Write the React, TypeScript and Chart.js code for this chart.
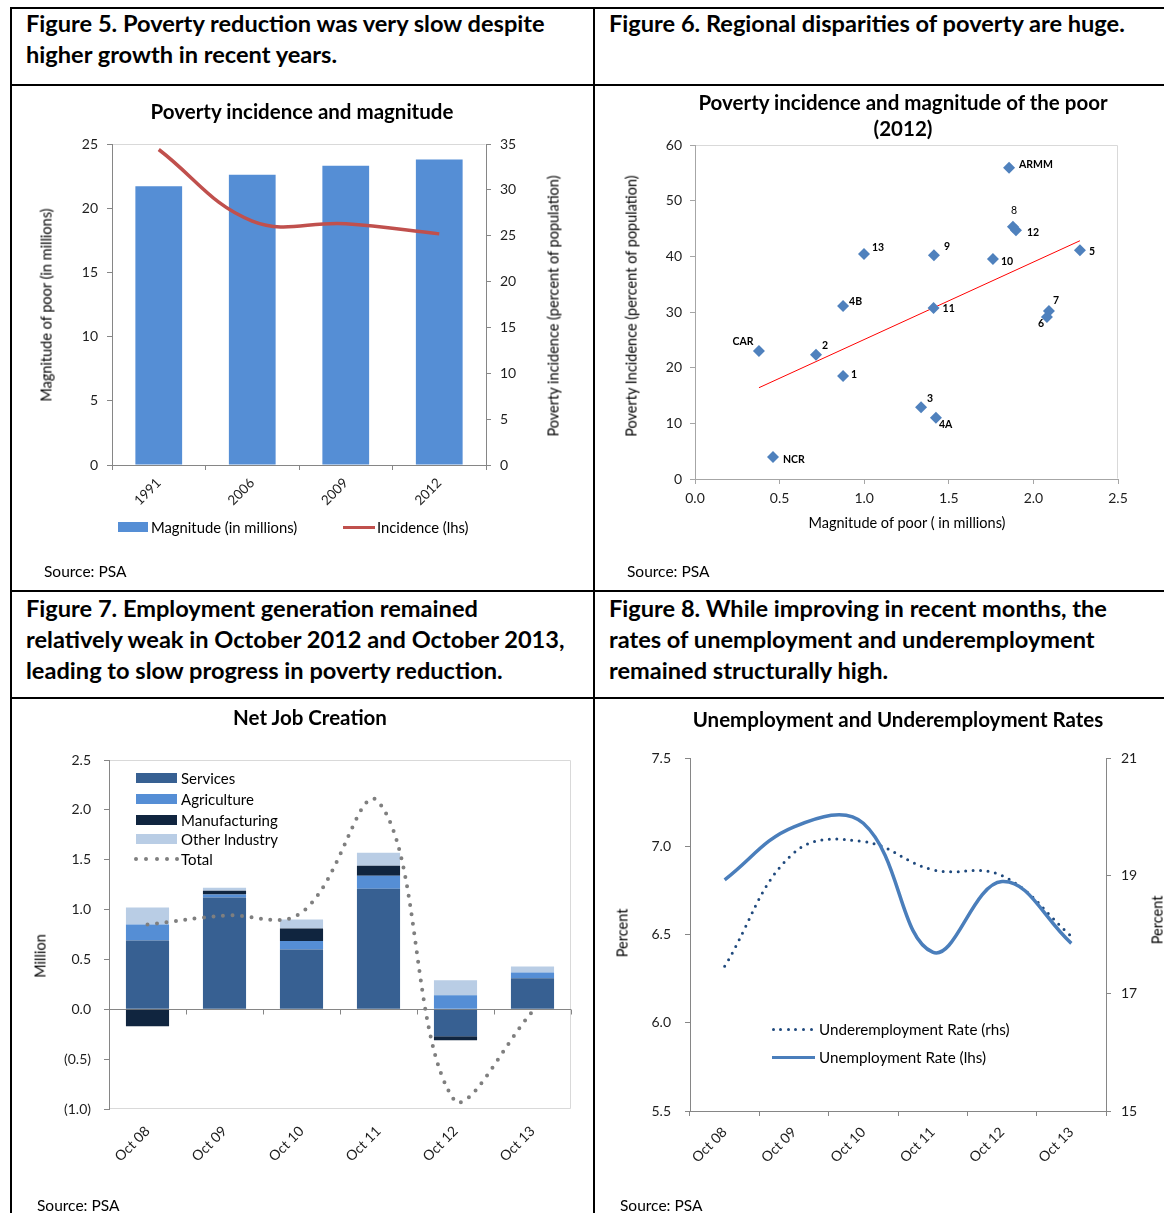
import React, { useEffect, useRef } from 'react';
import { Chart, registerables } from 'chart.js';

Chart.register(...registerables);

const FONT = 'Lato, "Open Sans", "DejaVu Sans", sans-serif';
Chart.defaults.font.family = FONT;
Chart.defaults.color = '#1e1e1e';

// ---------- Figure 5: Poverty incidence and magnitude ----------
const povertyYears = ['1991', '2006', '2009', '2012'];
const povertyMagnitude = [21.7, 22.6, 23.3, 23.8];
const povertyIncidence = [34.4, 26.6, 26.3, 25.2];

// ---------- Figure 6: Regional poverty (2012) ----------
const regionNames = ['ARMM', '8', '12', '13', '9', '10', '5', '4B', '11', '7', '6', 'CAR', '2', '1', '3', '4A', 'NCR'];
const regionMagnitude = [1.856, 1.879, 1.897, 0.999, 1.412, 1.761, 2.275, 0.875, 1.41, 2.092, 2.08, 0.378, 0.715, 0.875, 1.336, 1.424, 0.461];
const regionIncidence = [55.9, 45.3, 44.7, 40.4, 40.2, 39.5, 41.1, 31.1, 30.7, 30.2, 29.1, 23.0, 22.3, 18.5, 12.9, 11.0, 3.95];
const trendMagnitude = [0.378, 2.275];
const trendIncidence = [16.4, 42.8];

// ---------- Figure 7: Net job creation ----------
const jobPeriods = ['Oct 08', 'Oct 09', 'Oct 10', 'Oct 11', 'Oct 12', 'Oct 13'];
const jobServices = [0.69, 1.12, 0.60, 1.21, -0.27, 0.31];
const jobAgriculture = [0.16, 0.03, 0.085, 0.13, 0.14, 0.06];
const jobManufacturing = [-0.17, 0.04, 0.125, 0.10, -0.04, 0];
const jobOtherIndustry = [0.17, 0.03, 0.09, 0.13, 0.15, 0.06];
const jobTotal = [0.85, 0.94, 0.97, 2.08, -0.93, -0.02];

// ---------- Figure 8: Unemployment and underemployment ----------
const ratePeriods = ['Oct 08', 'Oct 09', 'Oct 10', 'Oct 11', 'Oct 12', 'Oct 13'];
const unemploymentRate = [6.81, 7.11, 7.13, 6.40, 6.80, 6.45];
const underemploymentRate = [17.46, 19.39, 19.58, 19.10, 19.0, 17.97];

// ---------- styles ----------
const AXIS = '#868686';
const LIGHT = '#D9D9D9';
const C_BAR = '#558ED5';
const C_RED = '#C0504D';
const C_DIAMOND = '#4F81BD';
const C_SERV = '#376092';
const C_AGRI = '#558ED5';
const C_MANU = '#10253F';
const C_OTHER = '#B9CDE5';
const C_TOTAL = '#7F7F7F';
const C_UNEMP = '#4A7EBB';
const C_UNDER = '#1F497D';

const regionLabelOffsets: [number, number, string, boolean][] = [
  [10, -3, 'left', true], [1, -16, 'center', false], [11, 2, 'left', true], [8, -6, 'left', true],
  [10, -9, 'left', true], [8, 2, 'left', true], [9, 1, 'left', true], [6, -4, 'left', true],
  [9, 1, 'left', true], [4, -10, 'left', true], [-6, 7, 'center', true], [-16, -9, 'center', true],
  [6, -9, 'left', true], [8, -1, 'left', true], [6, -9, 'left', true], [3, 7, 'left', true],
  [10, 3, 'left', true],
];

const framePlugin = {
  id: 'frame',
  beforeDraw(chart: any, _a: any, opts: any) {
    const { ctx, chartArea: a } = chart;
    if (!opts || !opts.color) return;
    ctx.save();
    ctx.strokeStyle = opts.color;
    ctx.lineWidth = 1;
    ctx.beginPath();
    const L = Math.round(a.left) + 0.5, R = Math.round(a.right) - 0.5;
    const T = Math.round(a.top) + 0.5, B = Math.round(a.bottom) - 0.5;
    if (opts.top) { ctx.moveTo(L, T); ctx.lineTo(R, T); }
    if (opts.right) { ctx.moveTo(R, T); ctx.lineTo(R, B); }
    if (opts.bottom) { ctx.moveTo(L, B); ctx.lineTo(R, B); }
    if (opts.left) { ctx.moveTo(L, T); ctx.lineTo(L, B); }
    ctx.stroke();
    ctx.restore();
  },
};

const zeroAxisPlugin = {
  id: 'zeroAxis',
  beforeDatasetsDraw(chart: any) {
    const { ctx, chartArea: a, scales } = chart;
    const y = Math.round(scales.y.getPixelForValue(0)) + 0.5;
    const n = chart.data.labels.length;
    ctx.save();
    ctx.strokeStyle = AXIS;
    ctx.lineWidth = 1;
    ctx.beginPath();
    ctx.moveTo(a.left, y);
    ctx.lineTo(a.right, y);
    for (let i = 1; i <= n; i++) {
      const x = Math.round(a.left + (i * (a.right - a.left)) / n) + 0.5;
      ctx.moveTo(x, y);
      ctx.lineTo(x, y + 5);
    }
    ctx.stroke();
    ctx.restore();
  },
};

const regionLabelPlugin = {
  id: 'regionLabels',
  afterDatasetsDraw(chart: any) {
    const meta = chart.getDatasetMeta(0);
    const ctx = chart.ctx;
    ctx.save();
    ctx.fillStyle = '#000';
    ctx.textBaseline = 'middle';
    meta.data.forEach((el: any, i: number) => {
      const [dx, dy, align, bold] = regionLabelOffsets[i];
      ctx.font = `${bold ? 'bold ' : ''}10.5px ${FONT}`;
      ctx.textAlign = align;
      ctx.fillText(regionNames[i], el.x + dx, el.y + dy);
    });
    ctx.restore();
  },
};

const axisGrid = (len = 5, color = AXIS) => ({ display: true, drawOnChartArea: false, drawTicks: true, tickLength: len, color });

function fig5Config(): any {
  return {
    type: 'bar',
    data: {
      labels: povertyYears,
      datasets: [
        { type: 'line', label: 'Incidence (lhs)', data: povertyIncidence, yAxisID: 'y1', borderColor: C_RED, borderWidth: 3.5, pointRadius: 0, tension: 0.4, order: 0 },
        { type: 'bar', label: 'Magnitude (in millions)', data: povertyMagnitude, yAxisID: 'y', backgroundColor: C_BAR, categoryPercentage: 0.5, barPercentage: 1, order: 1 },
      ],
    },
    options: {
      responsive: false, animation: false, devicePixelRatio: 1,
      layout: { padding: { top: 58, left: 0, right: 0, bottom: 0 } },
      plugins: { legend: { display: false }, tooltip: { enabled: false }, frame: { color: LIGHT, top: true } },
      scales: {
        x: {
          afterFit: (s: any) => { s.height = 125; },
          grid: { ...axisGrid(5), offset: true }, border: { color: AXIS },
          ticks: { minRotation: 45, maxRotation: 45, autoSkip: false, padding: 5, font: { size: 13.5 } },
        },
        y: {
          position: 'left', min: 0, max: 25, afterFit: (s: any) => { s.width = 100; },
          grid: axisGrid(5), border: { color: AXIS },
          ticks: { stepSize: 5, padding: 9, font: { size: 14 } },
        },
        y1: {
          position: 'right', min: 0, max: 35, afterFit: (s: any) => { s.width = 107; },
          grid: axisGrid(5), border: { color: AXIS },
          ticks: { stepSize: 5, padding: 9, font: { size: 14 } },
        },
      },
    },
    plugins: [framePlugin],
  };
}

function fig6Config(): any {
  return {
    type: 'scatter',
    data: {
      datasets: [
        {
          label: 'Regions', data: regionMagnitude.map((x, i) => ({ x, y: regionIncidence[i] })),
          pointStyle: 'rectRot', pointRadius: 6, backgroundColor: C_DIAMOND, borderColor: C_DIAMOND, borderWidth: 0, order: 0,
        },
        {
          type: 'line', label: 'Trend', data: trendMagnitude.map((x, i) => ({ x, y: trendIncidence[i] })),
          borderColor: '#FF0000', borderWidth: 1, pointRadius: 0, order: 1,
        },
      ],
    },
    options: {
      responsive: false, animation: false, devicePixelRatio: 1,
      layout: { padding: { top: 59, left: 0, right: 46, bottom: 0 } },
      plugins: { legend: { display: false }, tooltip: { enabled: false }, frame: { color: LIGHT, top: true, right: true } },
      scales: {
        x: {
          type: 'linear', min: 0, max: 2.5, afterFit: (s: any) => { s.height = 111; },
          grid: axisGrid(5, '#A6A6A6'), border: { color: '#A6A6A6' },
          ticks: { stepSize: 0.5, padding: 6, font: { size: 14 }, callback: (v: number) => v.toFixed(1) },
        },
        y: {
          min: 0, max: 60, afterFit: (s: any) => { s.width = 100; },
          grid: axisGrid(5, '#A6A6A6'), border: { color: '#A6A6A6' },
          ticks: { stepSize: 10, padding: 8, font: { size: 14 } },
        },
      },
    },
    plugins: [framePlugin, regionLabelPlugin],
  };
}

function fig7Config(): any {
  const bar = (label: string, data: number[], color: string) => ({
    label, data, backgroundColor: color, stack: 's', order: 1, categoryPercentage: 0.56, barPercentage: 1,
  });
  return {
    type: 'bar',
    data: {
      labels: jobPeriods,
      datasets: [
        { type: 'line', label: 'Total', data: jobTotal, borderColor: C_TOTAL, borderWidth: 4, borderDash: [0, 9.5], borderCapStyle: 'round', pointRadius: 0, tension: 0.4, order: 0 },
        bar('Services', jobServices, C_SERV),
        bar('Agriculture', jobAgriculture, C_AGRI),
        bar('Manufacturing', jobManufacturing, C_MANU),
        bar('Other Industry', jobOtherIndustry, C_OTHER),
      ],
    },
    options: {
      responsive: false, animation: false, devicePixelRatio: 1,
      layout: { padding: { top: 61, left: 0, right: 22, bottom: 0 } },
      plugins: { legend: { display: false }, tooltip: { enabled: false }, frame: { color: LIGHT, top: true, right: true, bottom: true } },
      scales: {
        x: {
          stacked: true, afterFit: (s: any) => { s.height = 104; },
          grid: { display: false, drawTicks: false }, border: { display: false },
          ticks: { minRotation: 45, maxRotation: 45, autoSkip: false, padding: 14, font: { size: 14 } },
        },
        y: {
          stacked: true, min: -1, max: 2.5, afterFit: (s: any) => { s.width = 97; },
          grid: axisGrid(5), border: { color: AXIS },
          ticks: {
            stepSize: 0.5, padding: 13, font: { size: 14 },
            callback: (v: number) => (v < 0 ? `(${Math.abs(v).toFixed(1)})` : v.toFixed(1)),
          },
        },
      },
    },
    plugins: [framePlugin, zeroAxisPlugin],
  };
}

function fig8Config(): any {
  return {
    type: 'line',
    data: {
      labels: ratePeriods,
      datasets: [
        { label: 'Unemployment Rate (lhs)', data: unemploymentRate, yAxisID: 'y', borderColor: C_UNEMP, borderWidth: 3.5, pointRadius: 0, tension: 0.4, order: 0 },
        { label: 'Underemployment Rate (rhs)', data: underemploymentRate, yAxisID: 'y1', borderColor: C_UNDER, borderWidth: 3, borderDash: [0, 7.5], borderCapStyle: 'round', pointRadius: 0, tension: 0.4, order: 1 },
      ],
    },
    options: {
      responsive: false, animation: false, devicePixelRatio: 1,
      layout: { padding: { top: 59, left: 0, right: 0, bottom: 0 } },
      plugins: { legend: { display: false }, tooltip: { enabled: false } },
      scales: {
        x: {
          offset: true, afterFit: (s: any) => { s.height = 102; },
          grid: { ...axisGrid(5), offset: true }, border: { color: AXIS },
          ticks: { minRotation: 45, maxRotation: 45, autoSkip: false, padding: 8, font: { size: 14 } },
        },
        y: {
          position: 'left', min: 5.5, max: 7.5, afterFit: (s: any) => { s.width = 95; },
          grid: axisGrid(5), border: { color: AXIS },
          ticks: { stepSize: 0.5, padding: 14, font: { size: 14 }, callback: (v: number) => v.toFixed(1) },
        },
        y1: {
          position: 'right', min: 15, max: 21, afterFit: (s: any) => { s.width = 58; },
          grid: axisGrid(5), border: { color: AXIS },
          ticks: { stepSize: 2, padding: 10, font: { size: 14 } },
        },
      },
    },
  };
}

type Box = { left: number; top: number; width: number; height: number };

function ChartCanvas({ box, build }: { box: Box; build: () => any }) {
  const ref = useRef<HTMLCanvasElement | null>(null);
  useEffect(() => {
    if (!ref.current) return;
    const chart = new Chart(ref.current, build());
    return () => chart.destroy();
  }, []);
  return (
    <canvas
      ref={ref}
      width={box.width}
      height={box.height}
      style={{ position: 'absolute', left: box.left, top: box.top, width: box.width, height: box.height }}
    />
  );
}

function Txt(props: { x: number; y: number; children: any; size?: number; bold?: boolean; align?: string; rotate?: boolean; lh?: number }) {
  const { x, y, children, size = 14, bold = false, align = 'left', rotate = false, lh } = props;
  const lineH = lh ?? Math.round(size * 1.3);
  const style: any = {
    position: 'absolute', fontFamily: FONT, fontSize: size, fontWeight: bold ? 700 : 400,
    lineHeight: `${lineH}px`, whiteSpace: 'nowrap', color: '#000', left: x,
  };
  if (rotate) {
    style.top = y;
    style.transform = 'translate(-50%, -50%) rotate(-90deg)';
  } else if (align === 'center') {
    style.top = y - lineH / 2;
    style.transform = 'translateX(-50%)';
    style.textAlign = 'center';
  } else {
    style.top = y - lineH / 2;
  }
  return <div style={style}>{children}</div>;
}

function Rect({ x, y, w, h, color }: { x: number; y: number; w: number; h: number; color: string }) {
  return <div style={{ position: 'absolute', left: x, top: y, width: w, height: h, background: color }} />;
}

function Dots({ x, y, n, gap, d, color }: { x: number; y: number; n: number; gap: number; d: number; color: string }) {
  return (
    <>
      {Array.from({ length: n }, (_, i) => (
        <div key={i} style={{ position: 'absolute', left: x + i * gap - d / 2, top: y - d / 2, width: d, height: d, borderRadius: '50%', background: color }} />
      ))}
    </>
  );
}

export default function App() {
  const H = 23.6;
  const T = 20.5;
  return (
    <div style={{ position: 'absolute', left: 0, top: 0, width: 1164, height: 1213, background: '#fff', overflow: 'hidden', fontFamily: FONT }}>
      {/* table lines */}
      <Rect x={10} y={7} w={1154} h={2} color="#000" />
      <Rect x={10} y={7} w={2} h={1206} color="#000" />
      <Rect x={593} y={7} w={2} h={1206} color="#000" />
      <Rect x={10} y={84} w={1154} h={2} color="#000" />
      <Rect x={10} y={590} w={1154} h={2} color="#000" />
      <Rect x={10} y={697} w={1154} h={2} color="#000" />

      {/* headings */}
      <Txt x={26} y={23} size={H} bold lh={31}>Figure 5. Poverty reduction was very slow despite<br />higher growth in recent years.</Txt>
      <Txt x={609} y={23} size={H} bold lh={31}>Figure 6. Regional disparities of poverty are huge.</Txt>
      <Txt x={26} y={608} size={H} bold lh={31}>Figure 7. Employment generation remained<br />relatively weak in October 2012 and October 2013,<br />leading to slow progress in poverty reduction.</Txt>
      <Txt x={609} y={608} size={H} bold lh={31}>Figure 8. While improving in recent months, the<br />rates of unemployment and underemployment<br />remained structurally high.</Txt>

      {/* Figure 5 */}
      <ChartCanvas box={{ left: 12, top: 86, width: 581, height: 504 }} build={fig5Config} />
      <Txt x={302} y={111} size={T} bold align="center">Poverty incidence and magnitude</Txt>
      <Txt x={46} y={305} size={14.5} rotate>Magnitude of poor (in millions)</Txt>
      <Txt x={553} y={306} size={14.5} rotate>Poverty incidence (percent of population)</Txt>
      <Rect x={118} y={522} w={30} h={10} color={C_BAR} />
      <Txt x={151} y={527} size={14.8}>Magnitude (in millions)</Txt>
      <Rect x={343} y={525.5} w={32} h={3} color={C_RED} />
      <Txt x={377} y={527} size={14.8}>Incidence (lhs)</Txt>
      <Txt x={44} y={571} size={15.5}>Source: PSA</Txt>

      {/* Figure 6 */}
      <ChartCanvas box={{ left: 595, top: 86, width: 569, height: 504 }} build={fig6Config} />
      <Txt x={903} y={102} size={T} bold align="center" lh={26}>Poverty incidence and magnitude of the poor<br />(2012)</Txt>
      <Txt x={631} y={306} size={14.5} rotate>Poverty Incidence (percent of population)</Txt>
      <Txt x={907} y={522} size={14.5} align="center">Magnitude of poor ( in millions)</Txt>
      <Txt x={627} y={571} size={15.5}>Source: PSA</Txt>

      {/* Figure 7 */}
      <ChartCanvas box={{ left: 12, top: 699, width: 581, height: 514 }} build={fig7Config} />
      <Txt x={310} y={717} size={T} bold align="center">Net Job Creation</Txt>
      <Txt x={40} y={956} size={14.5} rotate>Million</Txt>
      <Rect x={136} y={773} w={41} h={10} color={C_SERV} />
      <Txt x={181} y={778} size={15}>Services</Txt>
      <Rect x={136} y={794} w={41} h={10} color={C_AGRI} />
      <Txt x={181} y={798.5} size={15}>Agriculture</Txt>
      <Rect x={136} y={815} w={41} h={10} color={C_MANU} />
      <Txt x={181} y={819.5} size={15}>Manufacturing</Txt>
      <Rect x={136} y={834} w={41} h={10} color={C_OTHER} />
      <Txt x={181} y={839} size={15}>Other Industry</Txt>
      <Dots x={136} y={859} n={5} gap={10.3} d={4} color={C_TOTAL} />
      <Txt x={181} y={859} size={15}>Total</Txt>
      <Txt x={37} y={1205} size={15.5}>Source: PSA</Txt>

      {/* Figure 8 */}
      <ChartCanvas box={{ left: 595, top: 699, width: 569, height: 514 }} build={fig8Config} />
      <Txt x={898} y={719} size={T} bold align="center">Unemployment and Underemployment Rates</Txt>
      <Txt x={622} y={933} size={14.5} rotate>Percent</Txt>
      <Txt x={1157} y={920} size={14.5} rotate>Percent</Txt>
      <Dots x={773} y={1029} n={6} gap={7.6} d={3} color={C_UNDER} />
      <Txt x={819} y={1029} size={15.2}>Underemployment Rate (rhs)</Txt>
      <Rect x={772} y={1055.5} w={43} h={3} color={C_UNEMP} />
      <Txt x={819} y={1057} size={15.2}>Unemployment Rate (lhs)</Txt>
      <Txt x={620} y={1205} size={15.5}>Source: PSA</Txt>
    </div>
  );
}
